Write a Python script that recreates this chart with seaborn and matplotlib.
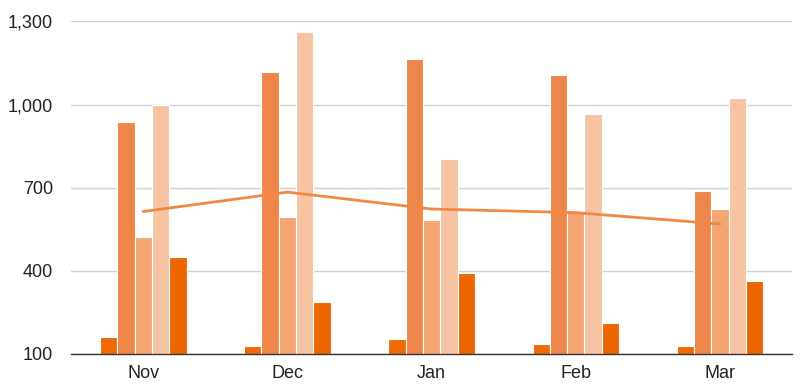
import pandas as pd
import numpy as np
import matplotlib
matplotlib.use('Agg')
import matplotlib.pyplot as plt
import seaborn as sns
from matplotlib.ticker import FuncFormatter

# ── Datos ─────────────────────────────────────────
months = ['Nov', 'Dec', 'Jan', 'Feb', 'Mar']
series = ['S1', 'S2', 'S3', 'S4', 'S5']
s1 = [160, 130, 154, 136, 130]
s2 = [936, 1118, 1165, 1106, 687]
s3 = [521, 595, 584, 611, 623]
s4 = [997, 1263, 804, 965, 1023]
s5 = [449, 287, 394, 213, 365]
avg_line = [614, 684, 623, 610, 569]

colors = ['#EF6A05', '#F0874A', '#F3A574', '#F7C4A3', '#EE6600']
line_color = '#F08844'

df = pd.DataFrame({
    'month': np.repeat(months, len(series)),
    'series': series * len(months),
    'value': np.column_stack([s1, s2, s3, s4, s5]).ravel(),
})
df_line = pd.DataFrame({'month': months, 'value': avg_line})

# ── Gráfica ──────────────────────────────────────
sns.set_style('white')
plt.rcParams['font.family'] = ['Liberation Sans', 'DejaVu Sans']

fig = plt.figure(figsize=(8, 3.89), dpi=100)
ax = fig.add_axes([0.089, 0.09, 0.901, 0.855])

sns.barplot(data=df, x='month', y='value', hue='series', order=months,
            hue_order=series, palette=colors, saturation=1, width=0.6, gap=0,
            edgecolor='white', linewidth=0.8, legend=False, ax=ax)
ax.plot(range(len(months)), df_line['value'], color=line_color, lw=2, zorder=5)

ax.set_ylim(100, 1300)
ax.set_xlim(-0.5, len(months) - 0.5)
ax.set_yticks([100, 400, 700, 1000, 1300])
ax.yaxis.set_major_formatter(FuncFormatter(lambda v, p: f'{int(v):,}'))
ax.grid(axis='y', color='#D0D0D0', lw=1)
ax.set_axisbelow(True)
for s in ['left', 'right', 'top']:
    ax.spines[s].set_visible(False)
ax.spines['bottom'].set_color('#333333')
ax.spines['bottom'].set_linewidth(1)
ax.spines['bottom'].set_zorder(6)
ax.tick_params(axis='y', length=0, pad=13, labelsize=13, labelcolor='#222222')
ax.tick_params(axis='x', length=0, pad=8, labelsize=13, labelcolor='#222222')
ax.set_xlabel('')
ax.set_ylabel('')

plt.savefig('out.png', dpi=100)
